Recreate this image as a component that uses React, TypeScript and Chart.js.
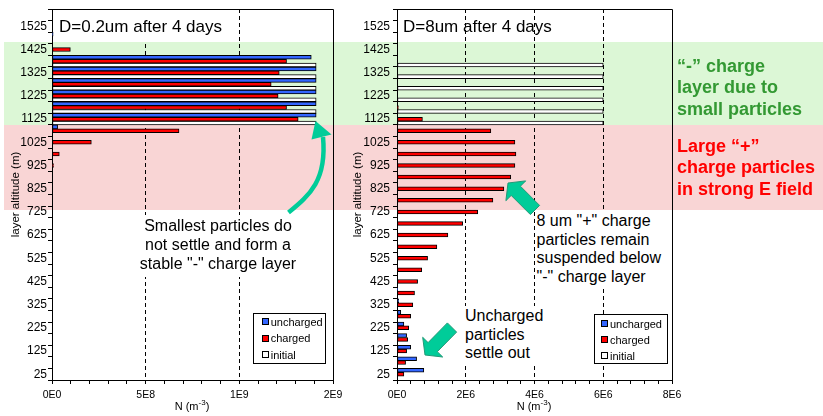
import React, { useEffect, useRef } from "react";
import { Chart, registerables } from "chart.js";

Chart.register(...registerables);

// ---------- data (index 0 = lowest layer) ----------
const altitudes = [25, 75, 125, 175, 225, 275, 325, 375, 425, 475, 525, 575, 625, 675, 725, 775, 825, 875, 925, 975, 1025, 1075, 1125, 1175, 1225, 1275, 1325, 1375, 1425, 1475, 1525, 1575];

// D = 0.2 um after 4 days
const smallUncharged = [0, 0, 0, 0, 0, 0, 0, 0, 0, 0, 0, 0, 0, 0, 0, 0, 0, 0, 0, 0, 0, 3.0e7, 1.41e9, 1.41e9, 1.41e9, 1.41e9, 1.41e9, 1.384e9, 0, 6e6, 0, 0];
const smallCharged = [0, 0, 0, 0, 0, 0, 0, 0, 0, 0, 0, 0, 0, 0, 0, 0, 0, 0, 8e6, 3.9e7, 2.1e8, 6.78e8, 1.314e9, 1.252e9, 1.207e9, 1.17e9, 1.213e9, 1.252e9, 9.8e7, 0, 0, 0];
const smallInitial = [0, 0, 0, 0, 0, 0, 0, 0, 0, 0, 0, 0, 0, 0, 0, 0, 0, 0, 0, 0, 0, 0, 1.41e9, 1.41e9, 1.41e9, 1.41e9, 1.41e9, 1.41e9, 0, 0, 0, 0];

// D = 8 um after 4 days
const largeUncharged = [7.8e5, 5.7e5, 4.0e5, 2.8e5, 2.0e5, 1.1e5, 5e4, 2e4, 0, 0, 0, 0, 0, 0, 0, 0, 0, 0, 0, 0, 0, 0, 0, 0, 0, 0, 0, 0, 0, 0, 0, 0];
const largeCharged = [2.0e5, 2.5e5, 2.8e5, 3.1e5, 3.4e5, 4.0e5, 4.6e5, 5.1e5, 6.0e5, 7.2e5, 8.9e5, 1.16e6, 1.48e6, 1.91e6, 2.35e6, 2.79e6, 3.11e6, 3.31e6, 3.43e6, 3.46e6, 3.43e6, 2.73e6, 7.4e5, 4e4, 0, 0, 0, 0, 0, 0, 0, 0];
const largeInitial = [0, 0, 0, 0, 0, 0, 0, 0, 0, 0, 0, 0, 0, 0, 0, 0, 0, 0, 0, 0, 0, 0, 6.0e6, 6.0e6, 6.0e6, 6.0e6, 6.0e6, 6.0e6, 0, 0, 0, 0];

const smallXTicks = [0, 5e8, 1e9, 1.5e9];
const smallXTickLabels = ["0E0", "5E8", "1E9", "2E9"];
const largeXTicks = [0, 2e6, 4e6, 6e6, 8e6];
const largeXTickLabels = ["0E0", "2E6", "4E6", "6E6", "8E6"];

const seriesNames = ["uncharged", "charged", "initial"];
const seriesColors = ["#3366FF", "#FF0000", "#FFFFFF"];

const FONT = "Arial, 'Liberation Sans', Helvetica, sans-serif";

type PanelSpec = {
  left: number;
  width: number;
  yAxisWidth: number;
  padRight: number;
  yTickPad: number;
  yTitlePad: number;
  xMax: number;
  xMinor: number;
  xTicks: number[];
  xTickLabels: string[];
  series: number[][];
};

const framePlugin = {
  id: "frame",
  afterDatasetsDraw(chart: any) {
    const { ctx, chartArea } = chart;
    ctx.save();
    ctx.strokeStyle = "#000";
    ctx.lineWidth = 1;
    const l = Math.round(chartArea.left) + 0.5;
    const t = Math.round(chartArea.top) + 0.5;
    const r = Math.round(chartArea.right) + 0.5;
    const b = Math.round(chartArea.bottom) + 0.5;
    ctx.beginPath();
    ctx.moveTo(l, t);
    ctx.lineTo(r, t);
    ctx.lineTo(r, b);
    ctx.stroke();
    ctx.restore();
  },
};

function BarPanel({ p }: { p: PanelSpec }) {
  const ref = useRef<HTMLCanvasElement>(null);
  useEffect(() => {
    const labels = altitudes.slice().reverse().map(String);
    const findMajor = (v: number) => p.xTicks.findIndex((t) => Math.abs(t - v) < p.xMinor / 10);
    const chart = new Chart(ref.current as HTMLCanvasElement, {
      type: "bar",
      data: {
        labels,
        datasets: p.series.map((s, i) => ({
          label: seriesNames[i],
          data: s.slice().reverse(),
          backgroundColor: seriesColors[i],
          borderColor: "#000",
          borderWidth: 1,
          borderSkipped: false,
          categoryPercentage: 1,
          barPercentage: 1,
        })),
      },
      options: {
        indexAxis: "y",
        animation: false,
        responsive: false,
        maintainAspectRatio: false,
        layout: { padding: { left: 0, right: p.padRight, top: 9, bottom: 0 } },
        plugins: { legend: { display: false }, tooltip: { enabled: false } },
        scales: {
          x: {
            type: "linear",
            min: 0,
            max: p.xMax,
            afterFit: (s: any) => {
              s.height = 36;
              s.paddingLeft = 0;
              s.paddingRight = 0;
            },
            ticks: {
              stepSize: p.xMinor,
              autoSkip: false,
              maxRotation: 0,
              minRotation: 0,
              padding: 5,
              color: "#000",
              font: { family: FONT, size: 10.5 },
              callback: (value: any) => {
                const k = findMajor(Number(value));
                return k >= 0 ? p.xTickLabels[k] : "";
              },
            },
            grid: {
              color: (ctx: any) => {
                const v = ctx.tick ? ctx.tick.value : null;
                if (v == null) return "rgba(0,0,0,0)";
                const k = findMajor(v);
                return k > 0 && k < p.xTicks.length - 1 ? "#000" : "rgba(0,0,0,0)";
              },
              lineWidth: 1,
              tickLength: 4,
              tickColor: "#000",
            },
            border: { display: true, color: "#000", width: 1, dash: [4, 3] },
          },
          y: {
            type: "category",
            afterFit: (s: any) => {
              s.width = p.yAxisWidth;
              s.paddingTop = 0;
              s.paddingBottom = 0;
            },
            ticks: {
              autoSkip: false,
              padding: p.yTickPad,
              color: "#000",
              font: { family: FONT, size: 12 },
              callback: (_v: any, i: number) => {
                const alt = Number(labels[i]);
                return (alt - 25) % 100 === 0 ? String(alt) : "";
              },
            },
            grid: { offset: true, drawOnChartArea: false, tickLength: 4, tickColor: "#000" },
            border: { display: true, color: "#000", width: 1 },
            title: {
              display: true,
              text: "layer altitude (m)",
              color: "#000",
              font: { family: FONT, size: 11.5 },
              padding: { top: p.yTitlePad, bottom: 0 },
            },
          },
        },
      } as any,
      plugins: [framePlugin],
    });
    return () => chart.destroy();
  }, []);
  return (
    <canvas
      ref={ref}
      width={p.width}
      height={416}
      style={{ position: "absolute", left: p.left, top: 0, width: p.width, height: 416 }}
    />
  );
}

function Legend({ left, top, width, height, mx, tx, rows }: any) {
  return (
    <div
      style={{
        position: "absolute",
        left,
        top,
        width: width - 2,
        height: height - 2,
        background: "#fff",
        border: "1px solid #000",
        fontFamily: FONT,
        fontSize: 11,
        color: "#000",
      }}
    >
      {seriesNames.map((n, i) => (
        <React.Fragment key={n}>
          <div
            style={{
              position: "absolute",
              left: mx - left - 1,
              top: rows[i] - top - 4,
              width: 5,
              height: 5,
              background: seriesColors[i],
              border: "1px solid #000",
            }}
          />
          <div
            style={{
              position: "absolute",
              left: tx - left - 1,
              top: rows[i] - top - 8.5,
              lineHeight: "16px",
              whiteSpace: "nowrap",
            }}
          >
            {n}
          </div>
        </React.Fragment>
      ))}
    </div>
  );
}

function blockArrow(tail: number[], tip: number[], headLen: number, headW: number, shaftW: number) {
  const dx = tip[0] - tail[0];
  const dy = tip[1] - tail[1];
  const L = Math.hypot(dx, dy);
  const ux = dx / L, uy = dy / L;
  const nx = -uy, ny = ux;
  const bx = tip[0] - ux * headLen, by = tip[1] - uy * headLen;
  const pts = [
    [tail[0] + nx * shaftW / 2, tail[1] + ny * shaftW / 2],
    [bx + nx * shaftW / 2, by + ny * shaftW / 2],
    [bx + nx * headW / 2, by + ny * headW / 2],
    [tip[0], tip[1]],
    [bx - nx * headW / 2, by - ny * headW / 2],
    [bx - nx * shaftW / 2, by - ny * shaftW / 2],
    [tail[0] - nx * shaftW / 2, tail[1] - ny * shaftW / 2],
  ];
  return pts.map((q) => q[0].toFixed(1) + "," + q[1].toFixed(1)).join(" ");
}

const smallPanel: PanelSpec = {
  left: 0,
  width: 345,
  yAxisWidth: 52,
  padRight: 12,
  yTickPad: 1,
  yTitlePad: 9,
  xMax: 1.5e9,
  xMinor: 1e8,
  xTicks: smallXTicks,
  xTickLabels: smallXTickLabels,
  series: [smallUncharged, smallCharged, smallInitial],
};

const largePanel: PanelSpec = {
  left: 345,
  width: 340,
  yAxisWidth: 52,
  padRight: 13,
  yTickPad: 3,
  yTitlePad: 6,
  xMax: 8e6,
  xMinor: 4e5,
  xTicks: largeXTicks,
  xTickLabels: largeXTickLabels,
  series: [largeUncharged, largeCharged, largeInitial],
};

const txt = (extra: any) => ({ position: "absolute" as const, fontFamily: FONT, color: "#000", whiteSpace: "nowrap" as const, ...extra });

export default function App() {
  return (
    <div style={{ position: "absolute", left: 0, top: 0, width: 823, height: 416, background: "#fff", overflow: "hidden" }}>
      {/* shaded bands */}
      <div style={{ position: "absolute", left: 4, top: 42, width: 819, height: 83, background: "#dcf7d6" }} />
      <div style={{ position: "absolute", left: 4, top: 125, width: 819, height: 85, background: "#f9d5d5" }} />

      <BarPanel p={smallPanel} />
      <BarPanel p={largePanel} />

      {/* panel titles */}
      <div style={txt({ left: 56, top: 10, width: 168, height: 32, background: "#fff" })} />
      <div style={txt({ left: 59, top: 17.4, fontSize: 17, lineHeight: "20px" })}>D=0.2um after 4 days</div>
      <div style={txt({ left: 403, top: 17.4, fontSize: 17, lineHeight: "20px" })}>D=8um after 4 days</div>

      {/* x-axis titles */}
      <div style={txt({ left: 162, width: 60, top: 399.7, fontSize: 11, lineHeight: "13px", textAlign: "center" })}>
        N (m<span style={{ fontSize: 8, position: "relative", top: -5 }}>-3</span>)
      </div>
      <div style={txt({ left: 504, width: 60, top: 399.7, fontSize: 11, lineHeight: "13px", textAlign: "center" })}>
        N (m<span style={{ fontSize: 8, position: "relative", top: -5 }}>-3</span>)
      </div>

      {/* annotations */}
      <div style={txt({ left: 138, top: 215, width: 160, height: 62, background: "#fff" })} />
      <div style={txt({ left: 118, width: 200, top: 217.4, fontSize: 16, lineHeight: "18.7px", textAlign: "center" })}>
        Smallest particles do<br />not settle and form a<br />stable "-" charge layer
      </div>

      <div style={txt({ left: 536, top: 211, width: 126, height: 76, background: "#fff" })} />
      <div style={txt({ left: 536.5, top: 211.8, fontSize: 16, lineHeight: "18.7px" })}>
        8 um "+" charge<br />particles remain<br />suspended below<br />"-" charge layer
      </div>

      <div style={txt({ left: 463, top: 306, width: 82, height: 57, background: "#fff" })} />
      <div style={txt({ left: 465, top: 306.8, fontSize: 16, lineHeight: "18.8px" })}>
        Uncharged<br />particles<br />settle out
      </div>

      <div style={txt({ left: 677, top: 55.7, fontSize: 18, lineHeight: "21.6px", fontWeight: "bold", color: "#339933" })}>
        “-” charge<br />layer due to<br />small particles
      </div>
      <div style={txt({ left: 677, top: 135.7, fontSize: 18, lineHeight: "21.6px", fontWeight: "bold", color: "#FF0000" })}>
        Large “+”<br />charge particles<br />in strong E field
      </div>

      {/* legends */}
      <Legend left={253} top={313} width={73} height={51} mx={262} tx={270.7} rows={[321.3, 337.5, 354]} />
      <Legend left={594} top={314} width={74} height={50} mx={601} tx={610} rows={[323, 339, 355]} />

      {/* arrows */}
      <svg width={823} height={416} style={{ position: "absolute", left: 0, top: 0, pointerEvents: "none" }}>
        <path d="M 288.5 212.5 C 310 195, 327 180, 323 137" fill="none" stroke="#00CC99" strokeWidth={4.5} />
        <polygon points="315.5,121 311.5,139.5 331.5,134.5" fill="#00CC99" />
        <polygon points={blockArrow([535, 210], [508, 183], 11, 28, 13)} fill="#00CC99" stroke="#229977" strokeWidth={1} />
        <polygon points={blockArrow([452, 327.5], [425, 355], 11, 28, 13)} fill="#00CC99" stroke="#229977" strokeWidth={1} />
      </svg>
    </div>
  );
}
